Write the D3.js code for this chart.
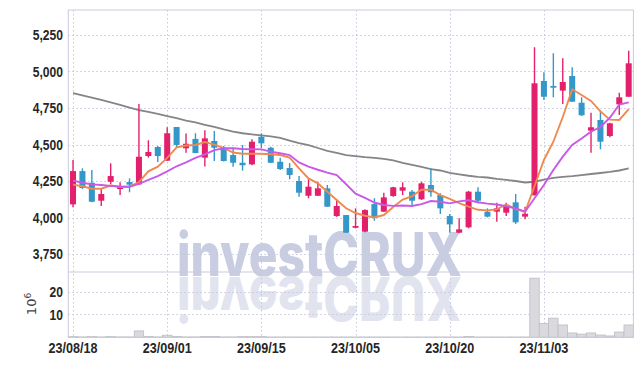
<!DOCTYPE html>
<html><head><meta charset="utf-8">
<script src="https://cdn.jsdelivr.net/npm/d3@7"></script>
<style>
html,body{margin:0;padding:0;background:#fff;}
svg{display:block;}
.lbl{font-family:"Liberation Sans",Arial,sans-serif;font-weight:bold;font-size:15px;fill:#262626;}
</style></head>
<body><svg id="c" width="642" height="366"></svg>
<script>
const dates = ["23/08/18","23/08/21","23/08/22","23/08/23","23/08/24","23/08/25","23/08/28","23/08/29","23/08/30","23/08/31",
"23/09/01","23/09/04","23/09/05","23/09/06","23/09/07","23/09/08","23/09/11","23/09/12","23/09/13","23/09/14",
"23/09/15","23/09/18","23/09/19","23/09/20","23/09/21","23/09/22","23/09/25","23/09/26","23/09/27","23/10/04",
"23/10/05","23/10/06","23/10/10","23/10/11","23/10/12","23/10/13","23/10/16","23/10/17","23/10/18","23/10/19",
"23/10/20","23/10/23","23/10/24","23/10/25","23/10/26","23/10/27","23/10/30","23/10/31","23/11/01","23/11/02",
"23/11/03","23/11/06","23/11/07","23/11/08","23/11/09","23/11/10","23/11/13","23/11/14","23/11/15","23/11/16"];
const open  = [4090,4318,4238,4115,4245,4195,4243,4227,4421,4483,4389,4620,4474,4538,4410,4524,4478,4428,4375,4364,
4553,4478,4382,4339,4250,4149,4149,4200,4010,4017,3930,3903,4092,4040,4147,4184,4177,4125,4223,4154,
4010,3896,3933,4177,4040,4040,4033,4104,4006,4152,4935,4901,4869,4969,4786,4595,4668,4558,4775,4827];
const high  = [4394,4337,4325,4202,4371,4241,4268,4777,4529,4490,4618,4620,4575,4577,4597,4592,4490,4474,4497,4536,
4577,4485,4410,4373,4284,4262,4245,4223,4120,4017,4063,4056,4132,4170,4211,4241,4188,4245,4337,4166,
4024,3995,4182,4207,4063,4101,4101,4161,4074,5166,4995,5125,5090,5029,4823,4718,4736,4649,4855,5142];
const low   = [4070,4195,4104,4079,4227,4154,4173,4223,4410,4380,4389,4483,4444,4442,4349,4387,4384,4348,4321,4358,
4474,4373,4325,4262,4142,4132,4147,4074,4006,3894,3926,3899,3978,4038,4142,4154,4079,4120,4142,4024,
3896,3892,3926,4097,4001,3971,4010,3956,3988,4152,4805,4823,4777,4793,4695,4444,4467,4549,4702,4827];
const close = [4318,4202,4108,4161,4284,4211,4225,4416,4449,4421,4577,4497,4505,4442,4542,4478,4387,4375,4358,4519,
4508,4375,4332,4291,4170,4211,4200,4074,4079,3896,3942,4051,4001,4138,4207,4207,4115,4234,4173,4063,
3953,3919,4177,4115,4006,4063,4086,3967,4026,4919,4827,4889,4928,4793,4700,4618,4519,4645,4823,5056];
const volume = [0.3,0.15,0.3,0.15,0.3,0.15,0.15,2.8,0.4,0.15,0.9,0.4,0.15,0.15,0.35,0.35,0.15,0.15,0.3,0.3,
0.3,0.12,0.12,0.12,0.12,0.12,0.12,0.12,0.12,0.12,0.12,0.12,0.12,0.12,0.12,0.12,0.12,0.12,0.12,0.12,
0.12,0.12,0.4,0.12,0.12,0.12,0.12,0.12,0.12,25.9,6.1,8.4,5.4,1.9,1.4,1.9,1.0,0.6,2.3,5.4];
const ma5 = [4225,4214,4197,4197,4219,4211,4211,4243,4316,4348,4408,4480,4493,4497,4517,4499,4476,4445,4437,4437,
4437,4433,4428,4411,4337,4268,4234,4177,4120,4063,4031,4012,4000,4017,4072,4123,4147,4190,4190,4154,
4127,4099,4074,4053,4049,4056,4089,4060,4038,4216,4394,4519,4688,4878,4839,4798,4727,4670,4668,4742];
const ma10 = [4253,4238,4227,4223,4217,4211,4211,4231,4257,4284,4316,4351,4377,4408,4432,4462,4474,4474,4469,4468,
4467,4451,4440,4428,4377,4348,4327,4308,4291,4228,4163,4135,4103,4086,4080,4082,4079,4092,4113,4108,
4097,4111,4118,4105,4095,4089,4077,4063,4040,4132,4223,4325,4417,4497,4541,4588,4620,4683,4774,4788];
const ma60 = [4851,4836,4821,4805,4788,4771,4753,4736,4723,4709,4695,4680,4664,4651,4635,4620,4603,4588,4577,4569,
4563,4556,4545,4527,4510,4495,4476,4457,4442,4428,4421,4414,4409,4401,4392,4375,4361,4346,4332,4322,
4305,4295,4286,4279,4274,4265,4258,4250,4240,4245,4260,4271,4279,4284,4291,4298,4305,4312,4322,4336];
const priceTicks = [3750,4000,4250,4500,4750,5000,5250];
const volTicks = [10,20];
const xTickLabels = ["23/08/18","23/09/01","23/09/15","23/10/05","23/10/20","23/11/03"];

const svg = d3.select("#c");
const L = 68.3, R = 633.4, T = 10, PB = 272, VB = 337.3;
const x = d3.scaleBand().domain(dates).range([L, R]).paddingInner(0.36).paddingOuter(0.18);
const cx = d => x(d) + x.bandwidth()/2;
const y = d3.scaleLinear().domain([3627, 5421]).range([PB, T]);
const yv = d3.scaleLinear().domain([0, 28.6]).range([VB, PB]);
const UP = "#e3206c", DOWN = "#3497c9", GRID = "#c6c8dc";
// condensed text width helper
const tw = s => Array.from(s).reduce((a,ch)=> a + (ch===","?3.4:ch==="/"?4.4:6.7), 0);

// watermark
const wm = svg.append("g");
wm.append("text").attr("x",177).attr("y",276).attr("textLength",285).attr("lengthAdjust","spacingAndGlyphs")
  .style("font-family","Inter, 'DejaVu Sans', sans-serif").style("font-weight",800).style("font-size","60px")
  .style("fill","#c8cde2").text("investCRUX");
wm.append("text").attr("x",177).attr("y",276).attr("textLength",285).attr("lengthAdjust","spacingAndGlyphs")
  .attr("transform","translate(0,553) scale(1,-1)")
  .style("font-family","Inter, 'DejaVu Sans', sans-serif").style("font-weight",800).style("font-size","60px")
  .style("fill","#e1e4ef").text("investCRUX");

// grid
const g = svg.append("g");
g.selectAll(".hg").data(priceTicks).join("line").attr("x1",L).attr("x2",R)
  .attr("y1",d=>Math.round(y(d))+0.5).attr("y2",d=>Math.round(y(d))+0.5)
  .attr("stroke",GRID).attr("stroke-dasharray","1.5,2.5");
g.selectAll(".vg").data(volTicks).join("line").attr("x1",L).attr("x2",R)
  .attr("y1",d=>Math.round(yv(d))+0.5).attr("y2",d=>Math.round(yv(d))+0.5)
  .attr("stroke",GRID).attr("stroke-dasharray","1.5,2.5");
g.selectAll(".xg").data(xTickLabels).join("line")
  .attr("x1",d=>Math.round(cx(d))+0.5).attr("x2",d=>Math.round(cx(d))+0.5).attr("y1",T).attr("y2",VB)
  .attr("stroke",GRID).attr("stroke-dasharray","1.5,2.5");

// volume bars
svg.append("g").selectAll("rect").data(dates).join("rect")
  .attr("x",(d)=>x(d)-x.step()*0.18).attr("width",x.step())
  .attr("y",(d,i)=>yv(volume[i])).attr("height",(d,i)=>VB-yv(volume[i]))
  .attr("fill","#d9d9de").attr("stroke","#bdbdc4").attr("stroke-width",0.8);

// frame
const f = svg.append("g").attr("fill","none").attr("stroke","#c9cbdb");
f.append("rect").attr("x",L).attr("y",T).attr("width",R-L).attr("height",VB-T);
f.append("line").attr("x1",L).attr("x2",R).attr("y1",PB).attr("y2",PB);

// MA lines
const line = arr => d3.line().x((d,i)=>cx(dates[i])).y(d=>y(d))(arr);
svg.append("path").attr("d",line(ma60)).attr("fill","none").attr("stroke","#858585").attr("stroke-width",1.8);

// candles
const cg = svg.append("g");
dates.forEach((d,i)=>{
  const c = close[i] >= open[i] ? UP : DOWN;
  cg.append("line").attr("x1",cx(d)).attr("x2",cx(d)).attr("y1",y(high[i])).attr("y2",y(low[i]))
    .attr("stroke",c).attr("stroke-width",1.4);
  const top = y(Math.max(open[i],close[i])), bot = y(Math.min(open[i],close[i]));
  cg.append("rect").attr("x",x(d)).attr("width",x.bandwidth()).attr("y",top).attr("height",Math.max(1.5,bot-top))
    .attr("fill",c);
});
svg.append("path").attr("d",line(ma5)).attr("fill","none").attr("stroke","#ef8a4e").attr("stroke-width",1.9);
svg.append("path").attr("d",line(ma10)).attr("fill","none").attr("stroke","#c959e6").attr("stroke-width",1.9);

// axes labels
svg.append("g").selectAll("text").data(priceTicks).join("text").attr("class","lbl")
  .attr("x",63).attr("y",d=>y(d)).attr("dy","0.36em").attr("text-anchor","end")
  .attr("textLength",d=>tw(d3.format(",")(d))).attr("lengthAdjust","spacingAndGlyphs")
  .text(d=>d3.format(",")(d));
svg.append("g").selectAll("text").data(volTicks).join("text").attr("class","lbl")
  .attr("x",63).attr("y",d=>yv(d)).attr("dy","0.36em").attr("text-anchor","end")
  .attr("textLength",d=>tw(String(d))).attr("lengthAdjust","spacingAndGlyphs").text(d=>d);
svg.append("text").attr("transform","translate(36,304) rotate(-90)").attr("text-anchor","middle")
  .style("font-family","'DejaVu Sans',sans-serif").style("font-size","13px").style("fill","#444")
  .html('10<tspan dy="-5" font-size="9">6</tspan>');
svg.append("g").selectAll("text").data(xTickLabels).join("text").attr("class","lbl")
  .attr("x",d=>cx(d)).attr("y",353).attr("text-anchor","middle")
  .attr("textLength",d=>tw(d)).attr("lengthAdjust","spacingAndGlyphs").text(d=>d);
</script></body></html>
